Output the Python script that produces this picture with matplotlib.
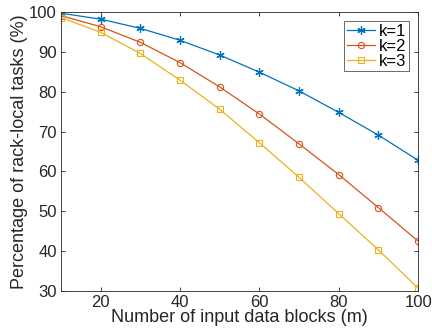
import matplotlib.pyplot as plt

# Values
m_blocks = [10, 20, 30, 40, 50, 60, 70, 80, 90, 100]
k1 = [99.7, 98.2, 95.9, 92.9, 89.2, 84.9, 80.2, 74.8, 69.1, 62.8]
k2 = [99.1, 96.3, 92.4, 87.3, 81.2, 74.4, 66.9, 59.2, 50.9, 42.5]
k3 = [98.6, 94.9, 89.6, 82.9, 75.6, 67.2, 58.5, 49.4, 40.3, 30.7]
x_ticks = [20, 40, 60, 80, 100]
y_ticks = [30, 40, 50, 60, 70, 80, 90, 100]

plt.rcParams['font.family'] = ['Liberation Sans', 'DejaVu Sans']

fig = plt.figure(figsize=(4.32, 3.33), dpi=100, facecolor='white')
ax = fig.add_axes([0.141, 0.126, 0.827, 0.838])

# MATLAB-style asterisk marker for k=1
ax.plot(m_blocks, k1, color='#0072BD', marker=(6, 2, 0), markersize=6, linewidth=0.9,
        markeredgewidth=0.9, label='k=1')
ax.plot(m_blocks, k2, color='#D95319', marker='o', markersize=4.5, linewidth=0.9,
        markerfacecolor='none', markeredgewidth=0.8, label='k=2')
ax.plot(m_blocks, k3, color='#EDB120', marker='s', markersize=4, linewidth=0.9,
        markerfacecolor='none', markeredgewidth=0.8, label='k=3')

ax.set_xlim(10, 100)
ax.set_ylim(30, 100)
ax.set_xticks(x_ticks)
ax.set_yticks(y_ticks)
ax.tick_params(direction='in', top=True, right=True, labelsize=12,
               length=3, width=0.6, colors='#262626', pad=3)
for side in ax.spines.values():
    side.set_color('#262626')
    side.set_linewidth(0.6)

ax.set_xlabel('Number of input data blocks (m)', fontsize=13, color='#262626', labelpad=-1)
ax.set_ylabel('Percentage of rack-local tasks (%)', fontsize=13, color='#262626', labelpad=1)

leg = ax.legend(loc='upper right', fontsize=12, frameon=True, fancybox=False,
                edgecolor='#262626', handlelength=1.7, handletextpad=0.25,
                borderpad=0.15, labelspacing=0.0, borderaxespad=0.55)
leg.get_frame().set_linewidth(0.6)

fig.savefig('out.png', dpi=100)
